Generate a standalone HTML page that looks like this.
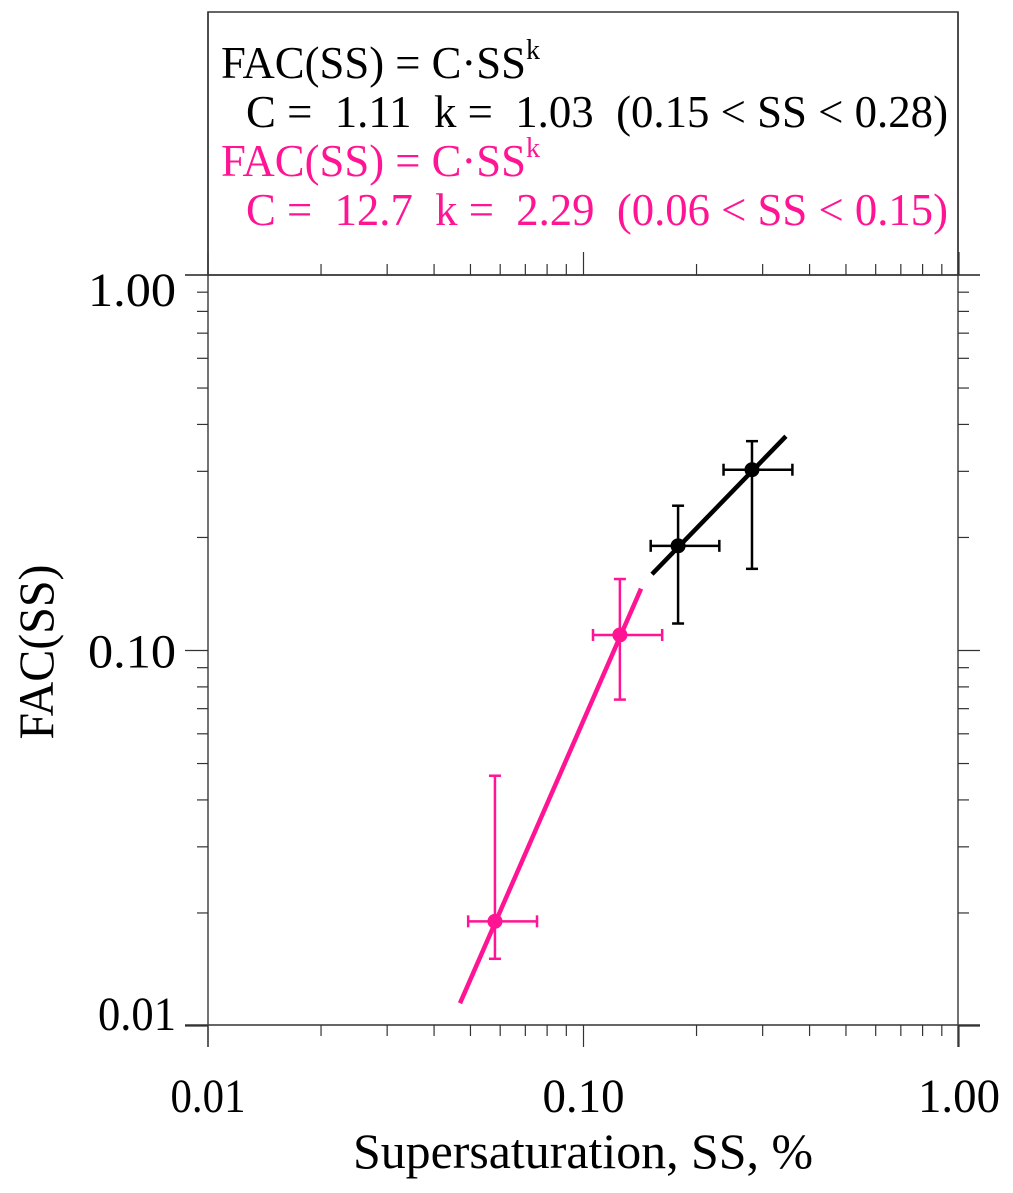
<!DOCTYPE html>
<html><head><meta charset="utf-8"><style>
html,body{margin:0;padding:0;background:#fff}
svg text{font-family:"Liberation Serif",serif}
</style></head><body>
<svg id="chart" width="1013" height="1188" viewBox="0 0 1013 1188" xmlns="http://www.w3.org/2000/svg">
<g id="axes"></g>
<g id="marks"></g>
<g>
<rect x="208" y="12" width="750" height="263" fill="none" stroke="#333" stroke-width="1.5"/>
<text x="221" y="78" font-size="46" fill="#000"><tspan textLength="305" lengthAdjust="spacingAndGlyphs">FAC(SS) = C·SS</tspan><tspan dy="-19" font-size="28">k</tspan></text>
<text x="246" y="127" font-size="46" fill="#000" textLength="702" lengthAdjust="spacingAndGlyphs" xml:space="preserve">C =  1.11  k =  1.03  (0.15 &lt; SS &lt; 0.28)</text>
<text x="221" y="176" font-size="46" fill="#ff1493"><tspan textLength="305" lengthAdjust="spacingAndGlyphs">FAC(SS) = C·SS</tspan><tspan dy="-19" font-size="28">k</tspan></text>
<text x="246" y="225" font-size="46" fill="#ff1493" textLength="702" lengthAdjust="spacingAndGlyphs" xml:space="preserve">C =  12.7  k =  2.29  (0.06 &lt; SS &lt; 0.15)</text>
</g>
<text x="583" y="1168" font-size="50" text-anchor="middle" textLength="460" lengthAdjust="spacingAndGlyphs">Supersaturation, SS, %</text>
<text x="0" y="0" font-size="50" text-anchor="middle" textLength="175" lengthAdjust="spacingAndGlyphs" transform="translate(53,652) rotate(-90)">FAC(SS)</text>
</svg>
<script>
const xTicks=[0.01,0.1,1];
const xTickLabels=["0.01","0.10","1.00"];
const yTicks=[1,0.1,0.01];
const yTickLabels=["1.00","0.10","0.01"];
const blackX=[0.1786,0.281];
const blackY=[0.190,0.303];
const blackXLo=[0.151,0.236];
const blackXHi=[0.230,0.360];
const blackYLo=[0.118,0.165];
const blackYHi=[0.243,0.361];
const pinkX=[0.0581,0.125];
const pinkY=[0.0190,0.110];
const pinkXLo=[0.0493,0.106];
const pinkXHi=[0.0752,0.162];
const pinkYLo=[0.0151,0.074];
const pinkYHi=[0.0464,0.155];
const fitC=[1.11,12.7];
const fitK=[1.03,2.29];
const fitXMin=[0.1522,0.0469];
const fitXMax=[0.346,0.1423];

const D=375.5;
const sx=v=>208+D*(Math.log10(v)+2);
const sy=v=>275-D*Math.log10(v);
const NS="http://www.w3.org/2000/svg";
const axes=document.getElementById('axes');
const marks=document.getElementById('marks');
function mk(tag,attrs,parent){const e=document.createElementNS(NS,tag);for(const k in attrs)e.setAttribute(k,attrs[k]);parent.appendChild(e);return e;}
function line(x1,y1,x2,y2,stroke,w,parent){return mk('line',{x1:x1,y1:y1,x2:x2,y2:y2,stroke:stroke,'stroke-width':w},parent);}
let l;
l=line(185,275,980,275,'#333',1.5,axes);


l=line(185,1025,980,1025,'#333',1.5,axes);


l=line(208,12,208,1047,'#444',1.5,axes);


l=line(958,12,958,1047,'#444',1.5,axes);


for(let d=-2;d<0;d++){
  for(let m=2;m<=9;m++){
    const v=m*Math.pow(10,d);
    const x=sx(v);
    let t=line(x,264,x,275,'#333',1.2,axes);
    
    
    t=line(x,1025,x,1036,'#333',1.2,axes);
    
    
    const yy=sy(v);
    t=line(197,yy,208,yy,'#333',1.2,axes);
    
    
    t=line(958,yy,969,yy,'#333',1.2,axes);
    
    
  }
}
xTicks.forEach((v,i)=>{
  const x=sx(v);
  let t=line(x,252,x,275,'#333',1.2,axes);
  
  
  t=line(x,1025,x,1047,'#333',1.2,axes);
  
  
  const tx=mk('text',{x:x,y:1112,'font-size':48,'text-anchor':'middle',textLength:(i==0?75:82),lengthAdjust:'spacingAndGlyphs'},axes);
  tx.textContent=xTickLabels[i];
  
  
});
const yLabelOff=[15,1,-12];
yTicks.forEach((v,i)=>{
  const y=sy(v);
  let t=line(185,y,208,y,'#333',1.2,axes);
  
  
  t=line(958,y,980,y,'#333',1.2,axes);
  
  
  const tx=mk('text',{x:176,y:y+yLabelOff[i]+16,'font-size':48,'text-anchor':'end',textLength:(i==2?78:88),lengthAdjust:'spacingAndGlyphs'},axes);
  tx.textContent=yTickLabels[i];
  
  
});
const fitColors=['#000','#ff1493'];
const fitNames=['fit-line-black','fit-line-pink'];
fitC.forEach((c,i)=>{
  const a=fitXMin[i], b=fitXMax[i];
  const f=line(sx(a),sy(c*Math.pow(a,fitK[i])),sx(b),sy(c*Math.pow(b,fitK[i])),fitColors[i],4.5,marks);
  
  
});
function series(X,Y,XL,XH,YL,YH,col,name){
  X.forEach((v,i)=>{
    const g=mk('g',{},marks);
    
    
    const x=sx(v), y=sy(Y[i]);
    const x1=sx(XL[i]), x2=sx(XH[i]), y1=sy(YH[i]), y2=sy(YL[i]);
    line(x1,y,x2,y,col,2.5,g); line(x1,y-6,x1,y+6,col,2.5,g); line(x2,y-6,x2,y+6,col,2.5,g);
    line(x,y1,x,y2,col,2.5,g); line(x-6,y1,x+6,y1,col,2.5,g); line(x-6,y2,x+6,y2,col,2.5,g);
    mk('circle',{cx:x,cy:y,r:7.5,fill:col},g);
  });
}
series(blackX,blackY,blackXLo,blackXHi,blackYLo,blackYHi,'#000','black');
series(pinkX,pinkY,pinkXLo,pinkXHi,pinkYLo,pinkYHi,'#ff1493','pink');
</script>
</body></html>
